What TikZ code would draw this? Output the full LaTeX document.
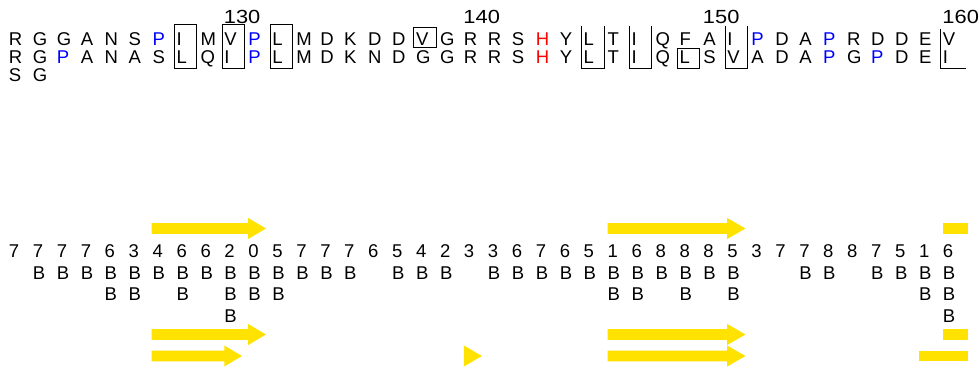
\documentclass[tikz,border=0pt]{standalone}
\usepackage{fontspec}
\setmainfont{Liberation Sans}
\definecolor{ck}{RGB}{0,0,0}
\definecolor{cb}{RGB}{0,0,255}
\definecolor{cr}{RGB}{255,0,0}
\definecolor{ssyel}{RGB}{255,226,0}
\newcommand{\ssarrow}[4]{% start, head base, tip, y centre
  \fill[ssyel] (#1,#4-5.4) -- (#2,#4-5.4) -- (#2,#4-10.5) -- (#3,#4) -- (#2,#4+10.5) -- (#2,#4+5.4) -- (#1,#4+5.4) -- cycle;}
\newcommand{\ssbar}[3]{% start, end, y centre
  \fill[ssyel] (#1,#3-5.4) rectangle (#2,#3+5.4);}
\begin{document}
\begin{tikzpicture}[x=1pt,y=-1pt,
  res/.style={anchor=base west,inner sep=0pt,font=\fontsize{18.5}{18.5}\selectfont},
  rulernum/.style={anchor=base west,inner sep=0pt,font=\fontsize{19}{19}\selectfont},
  boxline/.style={draw=black,line width=0.9pt}]
\useasboundingbox (0,0) rectangle (980,371);
% ruler numbers
\foreach \n/\c in {130/10,140/20,150/30,160/40}
  \node[rulernum] (num\n) at ({8.7+(\c-1)*23.95-0.5},23.5) {\scalebox{1.15}[1]{\n}};
% sequence row 1
\foreach \ch/\k [count=\i] in {R/ck,G/ck,G/ck,A/ck,N/ck,S/ck,P/cb,I/ck,M/ck,V/ck,P/cb,L/ck,M/ck,D/ck,K/ck,D/ck,D/ck,V/ck,G/ck,R/ck,R/ck,S/ck,H/cr,Y/ck,L/ck,T/ck,I/ck,Q/ck,F/ck,A/ck,I/ck,P/cb,D/ck,A/ck,P/cb,R/ck,D/ck,D/ck,E/ck,V/ck}
  \node[res,text=\k] (a\i) at ({8.7+(\i-1)*23.95},45.5) {\ch};
% sequence row 2
\foreach \ch/\k [count=\i] in {R/ck,G/ck,P/cb,A/ck,N/ck,A/ck,S/ck,L/ck,Q/ck,I/ck,P/cb,L/ck,M/ck,D/ck,K/ck,N/ck,D/ck,G/ck,G/ck,R/ck,R/ck,S/ck,H/cr,Y/ck,L/ck,T/ck,I/ck,Q/ck,L/ck,S/ck,V/ck,A/ck,D/ck,A/ck,P/cb,G/ck,P/cb,D/ck,E/ck,I/ck}
  \node[res,text=\k] (b\i) at ({8.7+(\i-1)*23.95},64) {\ch};
% row 3
\node[res] (c1) at (8.7,82) {S};
\node[res] (c2) at ({8.7+23.95},82) {G};
% boxes spanning both rows
\foreach \c in {8,10,12}
  \draw[boxline] ({8.7+(\c-1)*23.95-2},24.5) rectangle ({8.7+(\c-1)*23.95+20.5},68.5);
% single-row boxes
\draw[boxline] ({8.7+17*23.95-2},27) rectangle ({8.7+17*23.95+20.5},47.5);
\draw[boxline] ({8.7+28*23.95-2},48) rectangle ({8.7+28*23.95+20.5},68.5);
% open-top frames
\foreach \c in {25,27,31}
  \draw[boxline] ({8.7+(\c-1)*23.95-2},26) -- ({8.7+(\c-1)*23.95-2},68.5) -- ({8.7+(\c-1)*23.95+20.5},68.5) -- ({8.7+(\c-1)*23.95+20.5},26);
\draw[boxline] ({8.7+39*23.95-2},29) -- ({8.7+39*23.95-2},68.5) -- ({8.7+39*23.95+23},68.5);
% secondary structure, top
\ssarrow{151.7}{248.2}{266}{228.5}
\ssarrow{607.5}{727.2}{745.5}{228.5}
\ssbar{942.8}{968}{228.5}
% accessibility digits
\foreach \d [count=\i] in {7,7,7,7,6,3,4,6,6,2,0,5,7,7,7,6,5,4,2,3,3,6,7,6,5,1,6,8,8,8,5,3,7,7,8,8,7,5,1,6}
  \node[res] (d\i) at ({8.7+(\i-1)*23.95},258) {\d};
\foreach \i in {2,...,15,17,18,19,21,22,...,31,34,35,37,38,39,40}
  \node[res] (ba\i) at ({8.7+(\i-1)*23.95},279.5) {B};
\foreach \i in {5,6,8,10,11,12,26,27,29,31,39,40}
  \node[res] (bb\i) at ({8.7+(\i-1)*23.95},301) {B};
\foreach \i in {10,40}
  \node[res] (bc\i) at ({8.7+(\i-1)*23.95},322.5) {B};
% secondary structure, bottom
\ssarrow{151.7}{248.2}{266}{334.5}
\ssarrow{607.5}{727.2}{745.5}{334.5}
\ssbar{942.8}{968}{334.5}
\ssarrow{151.7}{224.3}{242}{356}
\ssarrow{463.8}{463.8}{482}{356}
\ssarrow{607.5}{727.2}{745.5}{356}
\ssbar{918.8}{968}{356}
\end{tikzpicture}
\end{document}
